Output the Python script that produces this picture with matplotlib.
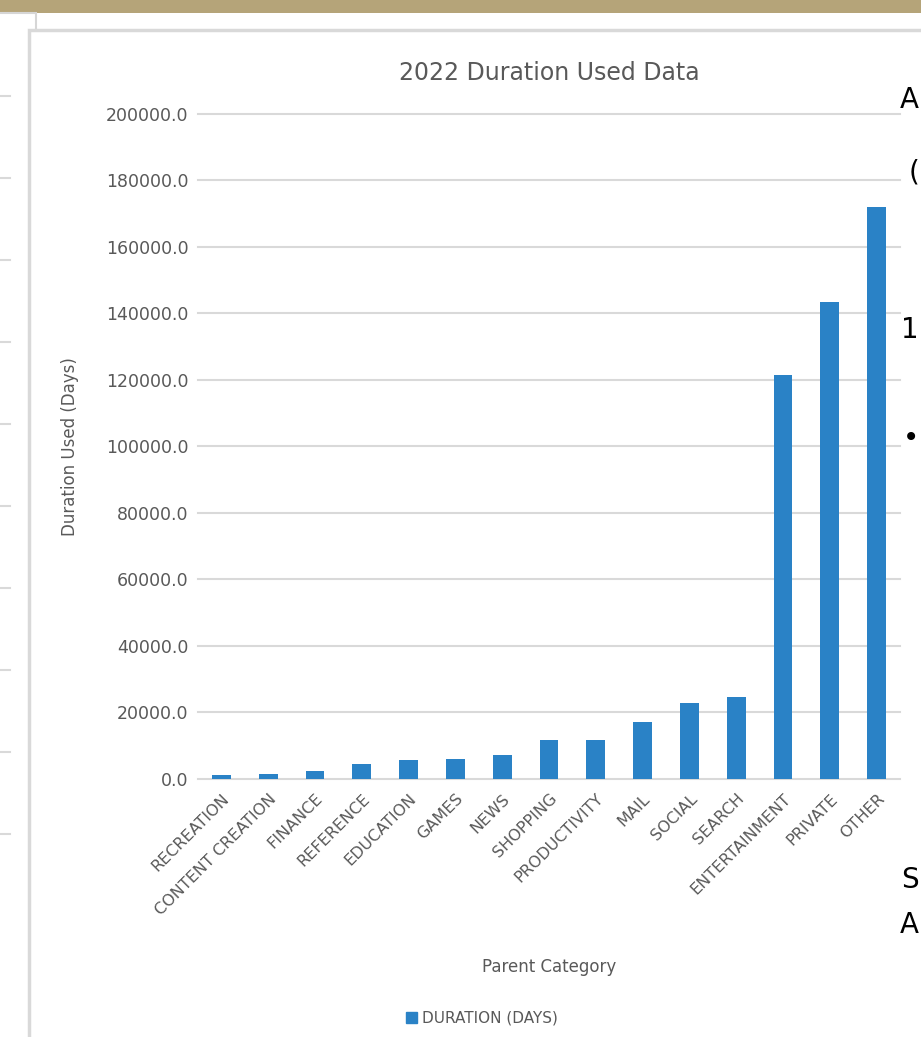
import numpy as np
import matplotlib
matplotlib.use("Agg")
import matplotlib.pyplot as plt
from matplotlib.patches import Rectangle

# chart data
categories = ["RECREATION", "CONTENT CREATION", "FINANCE", "REFERENCE", "EDUCATION",
              "GAMES", "NEWS", "SHOPPING", "PRODUCTIVITY", "MAIL", "SOCIAL",
              "SEARCH", "ENTERTAINMENT", "PRIVATE", "OTHER"]
duration_days = [1100, 1500, 2300, 4400, 5500, 5800, 7100, 11700, 11700,
                 16900, 22600, 24600, 121500, 143500, 172000]
y_ticks = [0, 20000, 40000, 60000, 80000, 100000, 120000, 140000, 160000, 180000, 200000]

W, H = 921, 1037
text_gray = "#595959"
grid_gray = "#d9d9d9"
bar_blue = "#2a82c6"

plt.rcParams["font.family"] = ["DejaVu Sans"]

fig = plt.figure(figsize=(W / 100, H / 100), dpi=100)
fig.patch.set_facecolor("white")

# slide background drawn in pixel coordinates
bg = fig.add_axes([0, 0, 1, 1], zorder=-5)
bg.set_xlim(0, W)
bg.set_ylim(H, 0)
bg.axis("off")
bg.add_patch(Rectangle((0, 0), W, 12.5, facecolor="#b5a479", edgecolor="none"))
# slide behind, on the left
bg.add_patch(Rectangle((-5, 13), 41, H, facecolor="white", edgecolor="#d6d6d6", lw=1.5))
for yy in np.linspace(96, 834, 10):
    bg.plot([0, 10], [yy, yy], color=grid_gray, lw=1.5)
# chart panel
bg.add_patch(Rectangle((29, 30), W, H, facecolor="white", edgecolor="#d9d9d9", lw=2.5))
# slide text peeking in on the right
for ch, yy in [("A", 100), ("(", 172), ("1", 330), ("•", 438), ("S", 880), ("A", 925)]:
    bg.text(919, yy, ch, fontsize=20, color="black", va="center", ha="right")

# the bar chart
ax = fig.add_axes([198 / W, 1 - 778.5 / H, 702 / W, 664.5 / H])
ax.set_facecolor("none")
x = np.arange(len(categories))
ax.bar(x, duration_days, width=0.4, color=bar_blue, zorder=3)
ax.set_xlim(-0.5, len(categories) - 0.5)
ax.set_ylim(0, 200000)
ax.set_yticks(y_ticks)
ax.set_yticklabels([f"{v:.1f}" for v in y_ticks])
ax.grid(axis="y", color=grid_gray, lw=1.5, zorder=0)
for gl in ax.get_ygridlines():
    gl.set_clip_on(False)
for s in ["top", "right", "left", "bottom"]:
    ax.spines[s].set_visible(False)
ax.tick_params(axis="both", length=0, colors=text_gray)
ax.tick_params(axis="y", pad=7, labelsize=12.5)
ax.set_xticks(x)
ax.set_xticklabels(categories, rotation=45, ha="right", rotation_mode="anchor",
                   fontsize=11.5, color=text_gray)
ax.tick_params(axis="x", pad=9)

ax.set_ylabel("Duration Used (Days)", fontsize=12, color=text_gray)
ax.yaxis.set_label_coords(-0.17, 0.5)
ax.set_xlabel("Parent Category", fontsize=12, color=text_gray)
ax.xaxis.set_label_coords(0.5, -0.27)
ax.set_title("2022 Duration Used Data", fontsize=17, color=text_gray, pad=0,
             y=1 + 34 / 664.5)

handle = Rectangle((0, 0), 1, 1, color=bar_blue)
fig.legend([handle], ["DURATION (DAYS)"], loc="center", bbox_to_anchor=(482 / W, 1 - 1018 / H),
           frameon=False, fontsize=11, labelcolor=text_gray, handlelength=0.7,
           handleheight=0.7, handletextpad=0.3)

fig.savefig("out.png", dpi=100)
